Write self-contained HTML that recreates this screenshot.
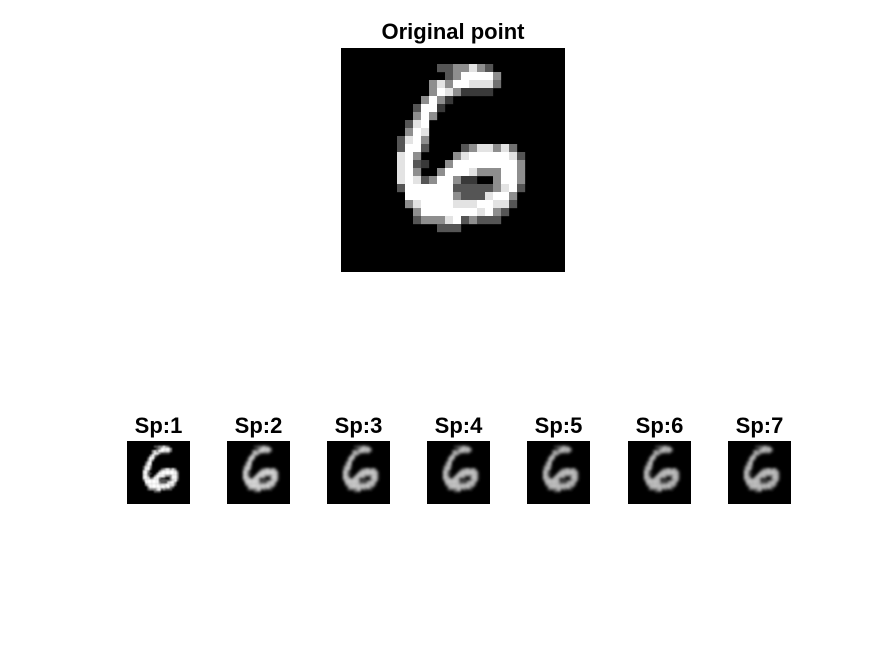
<!DOCTYPE html>
<html><head><meta charset="utf-8"><style>
body{margin:0;background:#fff;width:875px;height:656px;overflow:hidden;font-family:"Liberation Sans",Arial,sans-serif}
</style></head><body>
<svg id="fig" width="875" height="656" xmlns="http://www.w3.org/2000/svg">
<defs>
<filter id="b1" x="-20%" y="-20%" width="140%" height="140%"><feGaussianBlur stdDeviation="0.35"/></filter>
<filter id="b2" x="-20%" y="-20%" width="140%" height="140%"><feGaussianBlur stdDeviation="0.55"/></filter>
</defs>
<text x="453" y="39" text-anchor="middle" font-size="22" font-weight="bold">Original point</text>
</svg>
<script>
// digit pixel data: [row, startCol, intensities 0-9]
const digitRows = [
[2,12,"3355853"],[3,13,"3599995"],[4,11,"585998884"],[5,11,"59852222"],
[6,10,"5952"],[7,9,"3992"],[8,9,"595"],[9,8,"389"],[10,8,"598"],[11,7,"3895"],
[12,7,"3993"],[12,15,"3588584"],[13,7,"895"],[13,14,"589999983"],
[14,7,"8932"],[14,13,"5999999995"],[15,7,"8950"],[15,12,"59998555995"],
[16,7,"8983599522005995"],[17,7,"3999999333335893"],[18,8,"99999953338995"],
[19,8,"58999988899883"],[20,9,"599999998953"],[21,9,"35558935333"],[22,12,"333"]
];
const panelLabels = ["Sp:1","Sp:2","Sp:3","Sp:4","Sp:5","Sp:6","Sp:7"];
const panelBrightness = [1.0,0.85,0.8,0.78,0.76,0.76,0.76];
const panelX = [127,227,327,427,527,628,728];

const NS="http://www.w3.org/2000/svg";
const svg=document.getElementById('fig');
function drawDigit(x,y,size,bright,filt,name){
  const g=document.createElementNS(NS,'g');
  
  
  const bg=document.createElementNS(NS,'rect');
  bg.setAttribute('x',x);bg.setAttribute('y',y);bg.setAttribute('width',size);bg.setAttribute('height',size);bg.setAttribute('fill','#000');
  g.appendChild(bg);
  const inner=document.createElementNS(NS,'g');
  const s=size/28;
  inner.setAttribute('transform',`translate(${x},${y}) scale(${s})`);
  if(filt) inner.setAttribute('filter',`url(#${filt})`);
  digitRows.forEach(([r,c0,str])=>{
    for(let i=0;i<str.length;i++){
      const v=+str[i]; if(!v) continue;
      const lv=Math.round(Math.min(255,(v/9)*255*bright));
      const p=document.createElementNS(NS,'rect');
      p.setAttribute('x',c0+i);p.setAttribute('y',r);p.setAttribute('width',1.02);p.setAttribute('height',1.02);
      p.setAttribute('fill',`rgb(${lv},${lv},${lv})`);
      inner.appendChild(p);
    }
  });
  g.appendChild(inner);
  svg.appendChild(g);
}
drawDigit(341,48,224,1,null,'original-image');
panelLabels.forEach((lab,i)=>{
  drawDigit(panelX[i],441,63,panelBrightness[i],i===0?'b1':'b2','sp-image-'+(i+1));
  const t=document.createElementNS(NS,'text');
  t.setAttribute('x',panelX[i]+31.5);t.setAttribute('y',433);
  t.setAttribute('text-anchor','middle');t.setAttribute('font-size','22');t.setAttribute('font-weight','bold');
  
  
  t.textContent=lab;
  svg.appendChild(t);
});
</script>
</body></html>
